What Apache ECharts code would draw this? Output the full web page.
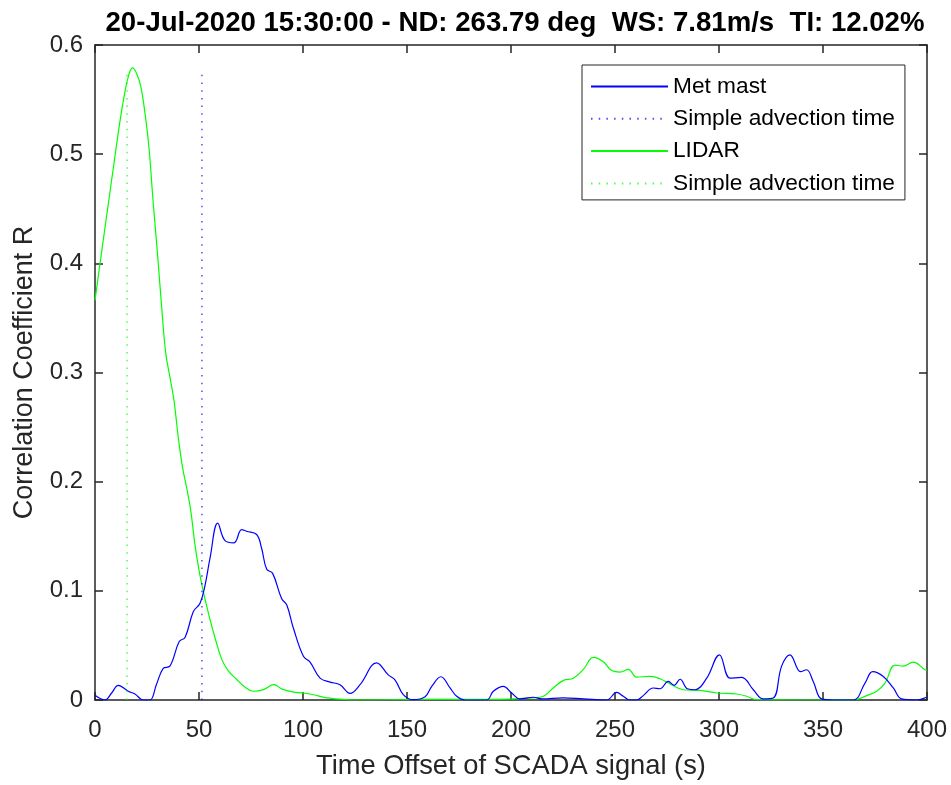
<!DOCTYPE html>
<html>
<head>
<meta charset="utf-8">
<script src="https://cdn.jsdelivr.net/npm/echarts@6/dist/echarts.min.js"></script>
<style>
  html, body { margin: 0; padding: 0; background: #fff; }
  #chart { width: 951px; height: 785px; }
</style>
</head>
<body>
<div id="chart"></div>
<script>
// Cross-correlation between SCADA power and upstream wind measurements
const chartTitle = '20-Jul-2020 15:30:00 - ND: 263.79 deg  WS: 7.81m/s  TI: 12.02%';

// Met mast correlation vs time offset (s)
const mastTime = [0, 4.8, 8, 11.2, 16, 19.2, 23.2, 26.4, 29.5, 32.8, 36, 40.5, 43.3, 47.3, 50.5, 52.9,
  55.3, 59, 62.5, 66.8, 70.5, 72.9, 77.7, 80.1, 82.5, 85.4, 89.7, 92.2, 95.4, 100.2, 103.4, 108.2,
  113, 117.8, 122.6, 127.4, 135.4, 141, 144.2, 148.2, 153, 158.7, 161.9, 166.3, 170.7, 173.9, 178,
  188.3, 191.5, 196.3, 200.3, 204.3, 210.7, 215, 225, 235, 246, 250.8, 254, 257.2, 260.4, 263.6,
  268.4, 271.6, 275.6, 278.4, 281.3, 284.8, 288.5, 294.1, 300.2, 305.3, 310.9, 316.5, 321.3, 326.1,
  330.1, 334.1, 339.2, 342.1, 345.3, 349.3, 355, 364.6, 370.2, 373.9, 379, 383.8, 387.8, 394.5, 399.8];
const mastCorr = [0.0043, 0.0, 0.0064, 0.0134, 0.008, 0.0055, 0.0, 0.0, 0.014, 0.029, 0.031, 0.0536,
  0.0573, 0.081, 0.0886, 0.105, 0.130, 0.162, 0.146, 0.144, 0.156, 0.1546, 0.1516, 0.139, 0.120,
  0.116, 0.093, 0.087, 0.0657, 0.040, 0.0347, 0.020, 0.0164, 0.014, 0.006, 0.014, 0.034, 0.023,
  0.0185, 0.005, 0.0003, 0.003, 0.0125, 0.0213, 0.011, 0.0034, 0.0, 0.0, 0.008, 0.0125, 0.0064,
  0.001, 0.0025, 0.001, 0.002, 0.001, 0.0, 0.007, 0.0034, 0.0, 0.0, 0.004, 0.011, 0.0103, 0.017,
  0.0134, 0.019, 0.0103, 0.0094, 0.020, 0.0414, 0.020, 0.0207, 0.0094, 0.001, 0.0018, 0.031, 0.0414,
  0.026, 0.0277, 0.017, 0.001, 0.0, 0.0, 0.0155, 0.026, 0.0216, 0.011, 0.001, 0.0, 0.0025];

// LIDAR correlation vs time offset (s)
const lidarTime = [0, 3, 6, 9, 12, 14, 16, 18, 20, 22, 24, 26, 28, 30, 32, 34, 36, 38, 40, 42, 44,
  46, 48, 50, 52, 55, 58, 61, 64, 68, 72, 76, 81, 86, 90, 95, 100, 105, 111.4, 125, 160, 190, 210.7,
  215.5, 220.3, 225.2, 230, 234.8, 239.6, 244.4, 248.4, 252.4, 256.4, 260.4, 266.8, 271.6, 277.2,
  282.8, 290.9, 298.9, 308.5, 313.3, 318.1, 340, 364.6, 371, 375.8, 379.8, 384.6, 388.6, 393.4, 399, 400];
const lidarCorr = [0.366, 0.408, 0.449, 0.49, 0.530, 0.553, 0.571, 0.579, 0.574, 0.562, 0.538, 0.505,
  0.455, 0.410, 0.361, 0.318, 0.296, 0.274, 0.241, 0.214, 0.195, 0.174, 0.143, 0.119, 0.100, 0.076,
  0.055, 0.037, 0.027, 0.019, 0.012, 0.008, 0.0095, 0.014, 0.010, 0.0075, 0.0064,
  0.0048, 0.002, 0.0, 0.0005, 0.0005, 0.002, 0.0034, 0.011, 0.018, 0.020, 0.028, 0.039, 0.035, 0.027,
  0.0256, 0.028, 0.021, 0.0216, 0.0195, 0.014, 0.0094, 0.0088, 0.0064, 0.0055, 0.0034, 0.0003, 0.0,
  0.0, 0.004, 0.008, 0.0155, 0.032, 0.031, 0.0347, 0.0277, 0.027];

// Simple advection times (s) and the height of their marker lines
const mastAdvection = 51.4;
const lidarAdvection = 15.4;
const advectionTop = 0.575;

// Axis ticks
const xTicks = [0, 50, 100, 150, 200, 250, 300, 350, 400];
const yTicks = [0, 0.1, 0.2, 0.3, 0.4, 0.5, 0.6];

const zip = (xs, ys) => xs.map((x, i) => [x, ys[i]]);
const vline = (t) => [[t, 0], [t, advectionTop]];

const axisColor = '#262626';
const font = 'Liberation Sans, Arial, Helvetica, sans-serif';
const BLUE = '#0000ff';
const GREEN = '#00ff00';

const legendText = {
  'Met mast': 'Met mast',
  'Simple advection time (mast)': 'Simple advection time',
  'LIDAR': 'LIDAR',
  'Simple advection time (LIDAR)': 'Simple advection time'
};

const baseX = {
  type: 'value',
  min: xTicks[0], max: xTicks[xTicks.length - 1], interval: 50,
  axisLine: { show: true, onZero: false, lineStyle: { color: axisColor, width: 1.5 } },
  axisTick: { show: true, inside: true, length: 8, lineStyle: { color: axisColor, width: 1.5 } },
  splitLine: { show: false }
};
const baseY = {
  type: 'value',
  min: yTicks[0], max: yTicks[yTicks.length - 1], interval: 0.1,
  axisLine: { show: true, onZero: false, lineStyle: { color: axisColor, width: 1.5 } },
  axisTick: { show: true, inside: true, length: 8, lineStyle: { color: axisColor, width: 1.5 } },
  splitLine: { show: false }
};

const chart = echarts.init(document.getElementById('chart'), null, { renderer: 'canvas' });
chart.setOption({
  animation: false,
  backgroundColor: '#ffffff',
  title: {
    text: chartTitle,
    left: 510, textAlign: 'center', top: 4,
    textStyle: { fontFamily: font, fontWeight: 'bold', fontSize: 27.6, color: '#000' }
  },
  grid: { left: 95, right: 24, top: 45, bottom: 83, containLabel: false },
  legend: {
    orient: 'vertical',
    left: 582, top: 65,
    padding: [10, 10, 5, 8],
    itemGap: 9.3,
    itemWidth: 77, itemHeight: 20,
    backgroundColor: '#ffffff',
    borderColor: '#262626', borderWidth: 1, borderRadius: 0,
    itemStyle: { opacity: 0 },
    textStyle: { fontFamily: font, fontSize: 22.7, color: '#000', lineHeight: 22 },
    formatter: (name) => legendText[name],
    data: ['Met mast', 'Simple advection time (mast)', 'LIDAR', 'Simple advection time (LIDAR)']
  },
  xAxis: [
    Object.assign({}, baseX, {
      position: 'bottom',
      name: 'Time Offset of SCADA signal (s)',
      nameLocation: 'middle', nameGap: 53,
      nameTextStyle: { fontFamily: font, fontSize: 27.3, color: axisColor },
      axisLabel: { margin: 18, fontFamily: font, fontSize: 24, color: axisColor }
    }),
    Object.assign({}, baseX, { position: 'top', axisLabel: { show: false } })
  ],
  yAxis: [
    Object.assign({}, baseY, {
      position: 'left',
      name: 'Correlation Coefficient R',
      nameLocation: 'middle', nameGap: 57,
      nameTextStyle: { fontFamily: font, fontSize: 27, color: axisColor },
      axisLabel: { margin: 12, fontFamily: font, fontSize: 24, color: axisColor }
    }),
    Object.assign({}, baseY, { position: 'right', axisLabel: { show: false } })
  ],
  series: [
    {
      name: 'Met mast', type: 'line', data: zip(mastTime, mastCorr),
      smooth: 0.4, symbol: 'none', clip: true,
      lineStyle: { color: BLUE, width: 1.2 }, itemStyle: { color: BLUE }, z: 3
    },
    {
      name: 'Simple advection time (mast)', type: 'line', data: vline(mastAdvection),
      symbol: 'none',
      lineStyle: { color: BLUE, width: 1.5, type: [1.5, 6.2], opacity: 0.7 }, itemStyle: { color: BLUE }
    },
    {
      name: 'LIDAR', type: 'line', data: zip(lidarTime, lidarCorr),
      smooth: 0.4, symbol: 'none', clip: true,
      lineStyle: { color: GREEN, width: 1.2 }, itemStyle: { color: GREEN }, z: 2
    },
    {
      name: 'Simple advection time (LIDAR)', type: 'line', data: vline(lidarAdvection),
      symbol: 'none',
      lineStyle: { color: GREEN, width: 1.5, type: [1.5, 6.2], opacity: 0.7 }, itemStyle: { color: GREEN }
    }
  ]
});
</script>
</body>
</html>
